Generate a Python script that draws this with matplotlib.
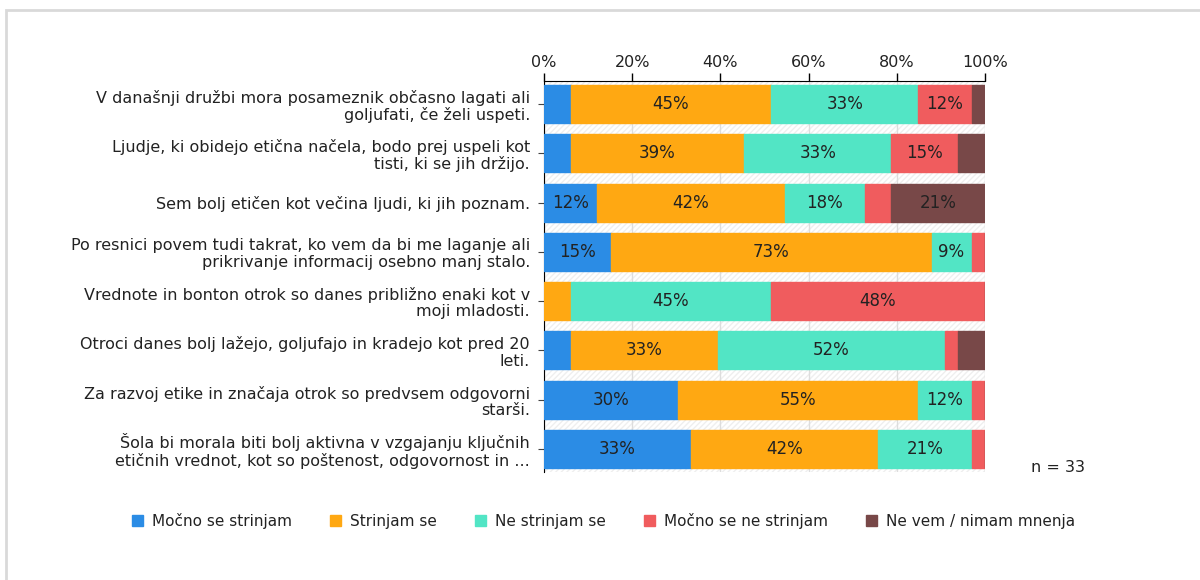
import numpy as np
import matplotlib.pyplot as plt
from matplotlib.patches import Rectangle

n = 33
questions = [
    "V današnji družbi mora posameznik občasno lagati ali\ngoljufati, če želi uspeti.",
    "Ljudje, ki obidejo etična načela, bodo prej uspeli kot\ntisti, ki se jih držijo.",
    "Sem bolj etičen kot večina ljudi, ki jih poznam.",
    "Po resnici povem tudi takrat, ko vem da bi me laganje ali\nprikrivanje informacij osebno manj stalo.",
    "Vrednote in bonton otrok so danes približno enaki kot v\nmoji mladosti.",
    "Otroci danes bolj lažejo, goljufajo in kradejo kot pred 20\nleti.",
    "Za razvoj etike in značaja otrok so predvsem odgovorni\nstarši.",
    "Šola bi morala biti bolj aktivna v vzgajanju ključnih\netičnih vrednot, kot so poštenost, odgovornost in ...",
]
categories = ["Močno se strinjam", "Strinjam se", "Ne strinjam se",
              "Močno se ne strinjam", "Ne vem / nimam mnenja"]
# answer counts per question (n = 33)
strongly_agree    = [2, 2, 4, 5, 0, 2, 10, 11]
agree             = [15, 13, 14, 24, 2, 11, 18, 14]
disagree          = [11, 11, 6, 3, 15, 17, 4, 7]
strongly_disagree = [4, 5, 2, 1, 16, 1, 1, 1]
dont_know         = [1, 2, 7, 0, 0, 2, 0, 0]
colors = ["#2b8ce5", "#ffa812", "#52e5c5", "#f05c5e", "#784848"]

series = np.array([strongly_agree, agree, disagree,
                   strongly_disagree, dont_know]) / n * 100

fig = plt.figure(figsize=(12, 5.8), dpi=100)
ax = fig.add_axes([0.4533, 0.1862, 0.3675, 0.6741])

# light frame around the whole picture
fig.patches.append(Rectangle((6 / 1200, -0.1), 1.2, 1 - 10 / 580 + 0.1,
                             transform=fig.transFigure, fill=False,
                             edgecolor="#d9d9d9", linewidth=2))

y = np.arange(len(questions))
ax.add_patch(Rectangle((0, 0), 1, 1, transform=ax.transAxes, facecolor="white",
                       hatch="//////", edgecolor="#efefef", linewidth=0, zorder=0))

left = np.zeros(len(questions))
for vals, col, name in zip(series, colors, categories):
    bars = ax.barh(y, vals, left=left, height=0.77, color=col,
                   edgecolor=col, linewidth=1.0, label=name, zorder=3)
    for b, v in zip(bars, vals):
        if v >= 8:
            ax.text(b.get_x() + b.get_width() / 2, b.get_y() + b.get_height() / 2,
                    "%d%%" % round(v), ha="center", va="center",
                    fontsize=12, color="#222222", zorder=4)
    left += vals

ax.set_xlim(0, 100)
ax.set_ylim(len(questions) - 0.53, -0.47)
ax.set_yticks(y)
ax.set_yticklabels(questions, fontsize=11.5, color="#222222", linespacing=1.1)
ax.set_xticks([0, 20, 40, 60, 80, 100])
ax.set_xticklabels(["0%", "20%", "40%", "60%", "80%", "100%"], fontsize=11.5,
                   color="#222222")
ax.xaxis.tick_top()
ax.tick_params(axis="x", length=6, width=1, color="black", pad=2)
ax.tick_params(axis="y", length=4, width=0.8, color="#444444", pad=6)
ax.grid(axis="x", color="#dddddd", linewidth=1, zorder=1)
ax.set_axisbelow(True)
for s in ["right", "bottom"]:
    ax.spines[s].set_visible(False)
ax.spines["top"].set_color("black")
ax.spines["left"].set_color("black")

fig.text(1058 / 1200, 1 - 467 / 580, "n = 33", ha="center", va="center",
         fontsize=11.5, color="#222222")

fig.legend(loc="center", bbox_to_anchor=(0.503, 0.102), ncol=5, frameon=False,
           fontsize=11, handlelength=0.7, handleheight=0.7, handletextpad=0.6,
           columnspacing=2.5, labelcolor="#222222")

fig.savefig("out.png", dpi=100, facecolor="white")
